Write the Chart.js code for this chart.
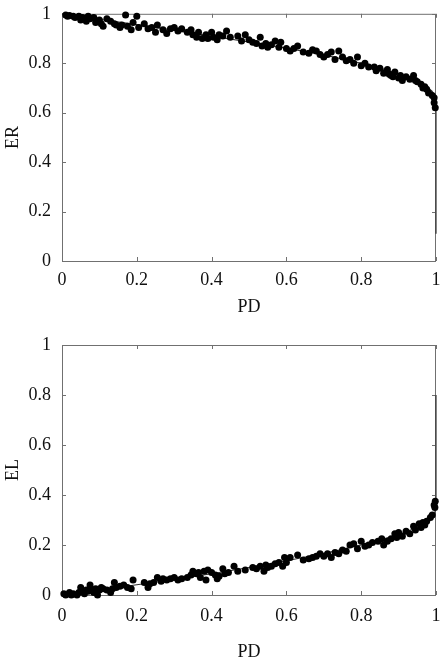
<!DOCTYPE html>
<html>
<head>
<meta charset="utf-8">
<title>ER / EL vs PD</title>
<script src="https://cdn.jsdelivr.net/npm/chart.js"></script>
<style>
  html, body { margin: 0; padding: 0; background: #fff; }
  .plot { position: absolute; left: 0; width: 440px; }
  #top { top: 0; height: 330px; }
  #bottom { top: 330px; height: 334px; }
</style>
</head>
<body>
<div class="plot" id="top"><canvas id="erChart"></canvas></div>
<div class="plot" id="bottom"><canvas id="elChart"></canvas></div>
<script>
// tick marks shared by both plots
const tickVals = [0, 0.2, 0.4, 0.6, 0.8, 1];
const tickLabels = ['0', '0.2', '0.4', '0.6', '0.8', '1'];

// top plot: ER against PD
const erX = [0.01,0.015,0.02,0.03,0.035,0.045,0.05,0.055,0.065,0.07,0.075,0.085,0.09,0.1,0.105,0.11,0.12,0.13,0.14,0.145,
  0.155,0.16,0.17,0.175,0.185,0.19,0.2,0.205,0.22,0.23,0.24,0.25,0.255,0.27,0.28,0.29,0.3,0.31,0.32,0.335,
  0.345,0.35,0.36,0.365,0.375,0.385,0.39,0.4,0.405,0.415,0.42,0.43,0.44,0.45,0.47,0.48,0.49,0.5,0.51,0.52,
  0.53,0.535,0.545,0.55,0.56,0.57,0.58,0.585,0.6,0.61,0.62,0.63,0.645,0.66,0.67,0.68,0.69,0.7,0.71,0.72,
  0.73,0.74,0.75,0.76,0.77,0.78,0.79,0.8,0.81,0.82,0.835,0.84,0.85,0.86,0.87,0.875,0.88,0.885,0.89,0.9,
  0.905,0.91,0.92,0.93,0.94,0.945,0.95,0.96,0.965,0.97,0.975,0.98,0.99,0.995,0.995,0.998];
const erY = [0.995,0.99,0.993,0.99,0.985,0.99,0.975,0.985,0.97,0.99,0.98,0.985,0.965,0.975,0.96,0.95,0.98,0.97,0.96,0.955,
  0.945,0.955,0.995,0.95,0.935,0.965,0.99,0.945,0.96,0.94,0.945,0.925,0.955,0.935,0.92,0.94,0.945,0.93,0.94,0.925,
  0.935,0.915,0.905,0.925,0.9,0.915,0.9,0.925,0.905,0.895,0.915,0.91,0.93,0.905,0.91,0.89,0.915,0.895,0.885,0.88,
  0.905,0.87,0.88,0.865,0.875,0.89,0.865,0.885,0.86,0.85,0.86,0.87,0.845,0.84,0.855,0.85,0.835,0.825,0.835,0.845,
  0.815,0.85,0.825,0.81,0.815,0.8,0.825,0.79,0.8,0.785,0.785,0.77,0.78,0.76,0.775,0.755,0.75,0.745,0.765,0.74,
  0.75,0.73,0.745,0.735,0.75,0.73,0.725,0.715,0.7,0.705,0.695,0.68,0.67,0.66,0.64,0.62];

// bottom plot: EL against PD
const elX = [0.005,0.01,0.02,0.025,0.03,0.04,0.045,0.05,0.055,0.06,0.065,0.07,0.075,0.08,0.085,0.09,0.095,0.1,0.105,0.11,
  0.12,0.13,0.135,0.14,0.145,0.155,0.165,0.175,0.185,0.19,0.22,0.23,0.235,0.245,0.255,0.265,0.27,0.28,0.29,0.3,
  0.31,0.32,0.335,0.345,0.35,0.36,0.365,0.37,0.38,0.385,0.39,0.4,0.41,0.415,0.42,0.43,0.435,0.445,0.46,0.47,
  0.49,0.51,0.52,0.53,0.54,0.545,0.55,0.56,0.57,0.58,0.59,0.595,0.6,0.61,0.63,0.645,0.66,0.67,0.68,0.69,
  0.7,0.71,0.72,0.73,0.74,0.75,0.76,0.77,0.78,0.79,0.8,0.81,0.82,0.83,0.845,0.855,0.86,0.87,0.88,0.89,
  0.895,0.9,0.91,0.92,0.93,0.94,0.945,0.955,0.96,0.965,0.97,0.975,0.985,0.99,0.995,0.998,0.997];
const elY = [0.005,0.0,0.01,0.0,0.005,0.0,0.01,0.03,0.015,0.005,0.02,0.015,0.04,0.02,0.01,0.025,0.0,0.02,0.03,0.025,
  0.02,0.01,0.025,0.05,0.03,0.035,0.04,0.03,0.025,0.06,0.05,0.03,0.045,0.05,0.07,0.055,0.065,0.06,0.065,0.07,
  0.06,0.065,0.07,0.08,0.095,0.085,0.09,0.07,0.095,0.06,0.1,0.09,0.08,0.065,0.075,0.105,0.085,0.09,0.115,0.095,
  0.1,0.11,0.105,0.115,0.095,0.12,0.11,0.115,0.125,0.13,0.115,0.15,0.13,0.15,0.16,0.14,0.145,0.15,0.155,0.165,
  0.155,0.165,0.15,0.17,0.165,0.18,0.175,0.2,0.205,0.185,0.215,0.195,0.2,0.21,0.215,0.225,0.2,0.215,0.225,0.245,
  0.23,0.25,0.235,0.255,0.245,0.275,0.26,0.285,0.27,0.29,0.28,0.295,0.31,0.32,0.36,0.375,0.35];

// fitted curves
const fitX = [0,0.1,0.2,0.3,0.4,0.5,0.6,0.7,0.8,0.85,0.9,0.95,0.97,0.99,0.997,1,1];
const erFit = [1.0,0.978,0.956,0.933,0.91,0.886,0.861,0.834,0.8,0.78,0.757,0.728,0.712,0.686,0.665,0.63,0.11];
const elFit = [0,0.02,0.041,0.062,0.085,0.11,0.137,0.166,0.2,0.22,0.242,0.27,0.285,0.31,0.33,0.37,0.8];

const font = { family: '"Liberation Serif", "Times New Roman", serif', size: 18 };
const toPts = (xs, ys) => xs.map((x, i) => ({ x: x, y: ys[i] }));

// MATLAB style box with inward ticks
const boxPlugin = {
  id: 'box',
  beforeDatasetsDraw(chart) {
    const { ctx, chartArea: a, scales: { x, y } } = chart;
    ctx.save();
    ctx.strokeStyle = '#707070';
    ctx.lineWidth = 1;
    ctx.strokeRect(a.left + 0.5, a.top + 0.5, a.right - a.left - 1, a.bottom - a.top);
    ctx.beginPath();
    tickVals.forEach(v => {
      const px = Math.round(x.getPixelForValue(v)) + 0.5;
      ctx.moveTo(px, a.bottom); ctx.lineTo(px, a.bottom - 4);
      ctx.moveTo(px, a.top); ctx.lineTo(px, a.top + 4);
      const py = Math.round(y.getPixelForValue(v)) + 0.5;
      ctx.moveTo(a.left, py); ctx.lineTo(a.left + 4, py);
      ctx.moveTo(a.right, py); ctx.lineTo(a.right - 4, py);
    });
    ctx.stroke();
    ctx.restore();
  }
};

function makeChart(id, yLabel, xs, ys, fitY, padTop, xTickPad, xTitlePad) {
  return new Chart(document.getElementById(id), {
    data: {
      datasets: [
        {
          type: 'scatter',
          data: toPts(xs, ys),
          backgroundColor: '#000',
          borderWidth: 0,
          pointRadius: 3.5,
          clip: false,
          order: 0
        },
        {
          type: 'line',
          data: toPts(fitX, fitY),
          borderColor: '#333',
          borderWidth: 1.2,
          pointRadius: 0,
          tension: 0,
          fill: false,
          clip: false,
          order: 1
        }
      ]
    },
    options: {
      responsive: true,
      maintainAspectRatio: false,
      animation: false,
      layout: { padding: { top: padTop, right: 0, left: 0, bottom: 0 } },
      plugins: { legend: { display: false }, tooltip: { enabled: false } },
      scales: {
        x: {
          type: 'linear', min: 0, max: 1,
          afterBuildTicks: s => { s.ticks = tickVals.map(v => ({ value: v })); },
          afterFit: s => { s.height = 69; s.paddingRight = 4; },
          grid: { display: false }, border: { display: false },
          ticks: { padding: xTickPad, color: '#111', font: font, maxRotation: 0,
                   callback: (v, i) => tickLabels[i] },
          title: { display: true, text: 'PD', color: '#111', font: font,
                   padding: { top: 0, bottom: xTitlePad } }
        },
        y: {
          type: 'linear', min: 0, max: 1,
          afterBuildTicks: s => { s.ticks = tickVals.map(v => ({ value: v })); },
          afterFit: s => { s.width = 62; },
          grid: { display: false }, border: { display: false },
          ticks: { padding: 3, color: '#111', font: font,
                   callback: (v, i) => tickLabels[i] },
          title: { display: true, text: yLabel, color: '#111', font: font,
                   padding: { top: 2, bottom: 0 } }
        }
      }
    },
    plugins: [boxPlugin]
  });
}

makeChart('erChart', 'ER', erX, erY, erFit, 11, 0, 12);
makeChart('elChart', 'EL', elX, elY, elFit, 15, 2, 1);
</script>
</body>
</html>
